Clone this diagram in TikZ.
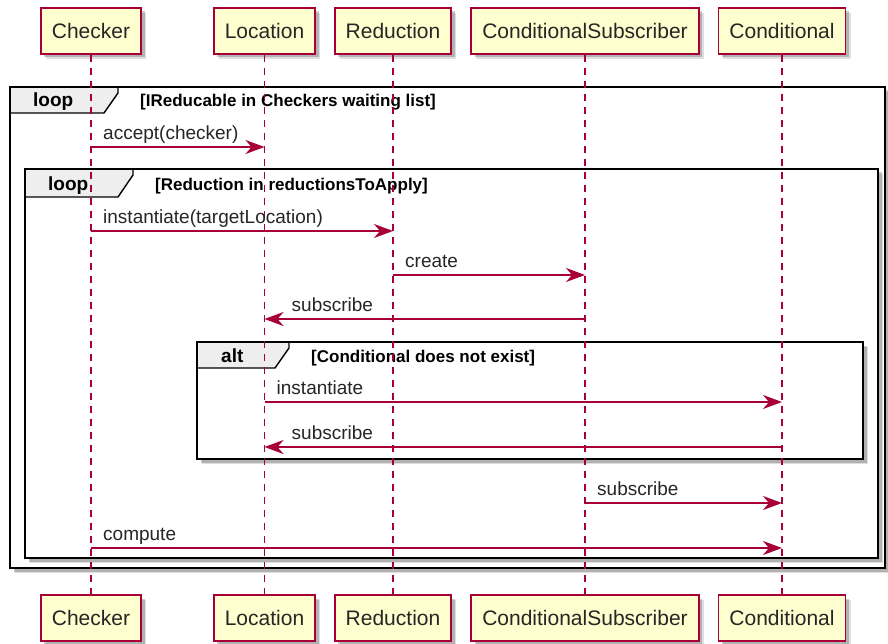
\documentclass[tikz,border=0pt]{standalone}
\usepackage{fontspec}
\setmainfont{Liberation Sans}
\usetikzlibrary{arrows.meta,shadows,calc}
\definecolor{umlred}{HTML}{A80036}
\definecolor{umlfill}{HTML}{FEFECE}
\definecolor{tabfill}{HTML}{EEEEEE}

\begin{document}
\begin{tikzpicture}[x=1pt,y=-1pt,
  softshadow/.style={
    general shadow={shadow xshift=5pt, shadow yshift=-5pt, opacity=0.18, fill=black!70},
    general shadow={shadow xshift=3.5pt, shadow yshift=-3.5pt, opacity=0.3, fill=black!70}},
  part/.style={draw=umlred, line width=1.6pt, fill=umlfill, minimum height=46pt,
    inner xsep=11pt, font=\fontsize{21}{25}\selectfont, text=black!85, softshadow},
  life/.style={draw=umlred, line width=1.2pt, dash pattern=on 7pt off 6pt},
  msg/.style={draw=umlred, line width=1.5pt, -{Stealth[length=19pt,width=14pt,inset=6pt]}},
  mlabel/.style={anchor=base west, inner sep=0pt, font=\fontsize{19}{22}\selectfont, text=black!85},
  framebg/.style={fill=white, softshadow},
  frameline/.style={draw=black, line width=2.4pt},
  tabline/.style={draw=black, line width=1.4pt},
  ftitle/.style={anchor=base west, inner sep=0pt, font=\fontsize{19}{22}\selectfont\bfseries},
  fcond/.style={anchor=base west, inner sep=0pt, font=\fontsize{17}{20}\selectfont\bfseries},
]
\useasboundingbox (0,0) rectangle (888,644);

% participants, top and bottom
\node[part] (chkT)  at (91,31)    {Checker};
\node[part] (locT)  at (264.5,31) {Location};
\node[part] (redT)  at (393,31)   {Reduction};
\node[part] (csT)   at (585,31)   {ConditionalSubscriber};
\node[part] (condT) at (782,31)   {Conditional};
\node[part] (chkB)  at (91,618)    {Checker};
\node[part] (locB)  at (264.5,618) {Location};
\node[part] (redB)  at (393,618)   {Reduction};
\node[part] (csB)   at (585,618)   {ConditionalSubscriber};
\node[part] (condB) at (782,618)   {Conditional};

% outer loop frame
\path[framebg] (10,87) rectangle (885,568);
\fill[tabfill] (10,87) -- (118,87) -- (118,93) -- (104,113) -- (10,113) -- cycle;
\draw[tabline] (10,113) -- (104,113) -- (118,93) -- (118,87);
\draw[frameline] (10,87) rectangle (885,568);
\node[ftitle] (lpA) at (33,107) {loop};
\node[fcond] (cdA) at (140,107) {[IReducable in Checkers waiting list]};

% inner loop frame
\path[framebg] (25,169) rectangle (878,558);
\fill[tabfill] (25,169) -- (133,169) -- (133,175) -- (118,197) -- (25,197) -- cycle;
\draw[tabline] (25,197) -- (118,197) -- (133,175) -- (133,169);
\draw[frameline] (25,169) rectangle (878,558);
\node[ftitle] (lpB) at (48,191) {loop};
\node[fcond] (cdB) at (155,191) {[Reduction in reductionsToApply]};

% alt frame
\path[framebg] (197,342) rectangle (863,459);
\fill[tabfill] (197,342) -- (289,342) -- (289,348) -- (275,368) -- (197,368) -- cycle;
\draw[tabline] (197,368) -- (275,368) -- (289,348) -- (289,342);
\draw[frameline] (197,342) rectangle (863,459);
\node[ftitle] (altA) at (221,362) {alt};
\node[fcond] (cdC) at (311,362) {[Conditional does not exist]};

% lifelines
\foreach \p in {chk,loc,red,cs,cond}
  \draw[life] (\p T.south) -- (\p B.north);

% message levels
\coordinate (lv1) at (0,147);
\coordinate (lv2) at (0,231);
\coordinate (lv3) at (0,275);
\coordinate (lv4) at (0,319);
\coordinate (lv5) at (0,402);
\coordinate (lv6) at (0,447);
\coordinate (lv7) at (0,503);
\coordinate (lv8) at (0,548);

% messages
\draw[msg] (chkT |- lv1) -- (locT |- lv1);
\node[mlabel] (m1) at ($(chkT |- lv1)+(12,-7.5)$) {accept(checker)};

\draw[msg] (chkT |- lv2) -- (redT |- lv2);
\node[mlabel] (m2) at ($(chkT |- lv2)+(12,-7.5)$) {instantiate(targetLocation)};

\draw[msg] (redT |- lv3) -- (csT |- lv3);
\node[mlabel] (m3) at ($(redT |- lv3)+(12,-7.5)$) {create};

\draw[msg] (csT |- lv4) -- (locT |- lv4);
\node[mlabel] (m4) at ($(locT |- lv4)+(27,-7.5)$) {subscribe};

\draw[msg] (locT |- lv5) -- (condT |- lv5);
\node[mlabel] (m5) at ($(locT |- lv5)+(12,-7.5)$) {instantiate};

\draw[msg] (condT |- lv6) -- (locT |- lv6);
\node[mlabel] (m6) at ($(locT |- lv6)+(27,-7.5)$) {subscribe};

\draw[msg] (csT |- lv7) -- (condT |- lv7);
\node[mlabel] (m7) at ($(csT |- lv7)+(12,-7.5)$) {subscribe};

\draw[msg] (chkT |- lv8) -- (condT |- lv8);
\node[mlabel] (m8) at ($(chkT |- lv8)+(12,-7.5)$) {compute};

\end{tikzpicture}
\end{document}
